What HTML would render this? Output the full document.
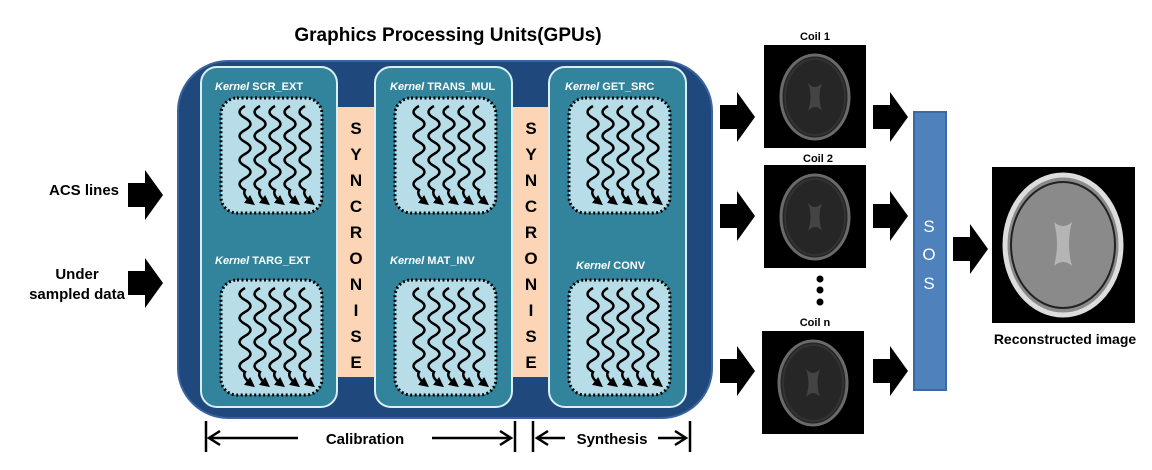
<!DOCTYPE html>
<html><head><meta charset="utf-8"><style>
html,body{margin:0;padding:0;background:#fff}
svg{display:block}
text{font-family:"Liberation Sans",sans-serif;font-weight:bold}
</style></head><body>
<svg width="1152" height="470" viewBox="0 0 1152 470" xmlns="http://www.w3.org/2000/svg">
<defs>
<marker id="ah" markerWidth="4" markerHeight="4" refX="2" refY="2" orient="auto" markerUnits="strokeWidth">
<path d="M0,0 L4,2 L0,4 z" fill="#000"/></marker>
<path id="arr" d="M0,13 H17 V0 L35,25 L17,50 V37 H0 Z" fill="#000"/>
<g id="wv">
<rect x="0" y="0" width="101" height="115" rx="16" fill="#b7dde8" stroke="#000" stroke-width="3" stroke-dasharray="2,2.5"/>
<g fill="none" stroke="#000" stroke-width="2.5">
<path id="w1" d="M24,8 q-11,6 0,12 q11,6 0,12 q-11,6 0,12 q11,6 0,12 q-11,6 0,12 q11,6 0,12 q-11,6 0,12 q-3,5 6,12" marker-end="url(#ah)"/>
<use href="#w1" x="15"/><use href="#w1" x="30"/><use href="#w1" x="45"/><use href="#w1" x="60"/>
</g>
</g>
<g id="brain">
<rect x="0" y="0" width="102" height="103" fill="#000"/>
<ellipse cx="51" cy="52" rx="34" ry="42" fill="#262626" stroke="#6a6a6a" stroke-width="3"/>
<ellipse cx="51" cy="52" rx="30" ry="38" fill="none" stroke="#333" stroke-width="2"/>
<path d="M44,38 q7,8 14,0 q-5,14 0,28 q-7,-8 -14,0 q5,-14 0,-28z" fill="#444"/>
</g>
</defs>

<text x="448" y="41" font-size="19" text-anchor="middle" fill="#000">Graphics Processing Units(GPUs)</text>

<rect x="178" y="61" width="534" height="357" rx="50" fill="#1f497d" stroke="#3a64a0" stroke-width="2"/>

<rect x="337" y="107" width="38" height="270" fill="#fbd5b5"/>
<rect x="512" y="107" width="37" height="270" fill="#fbd5b5"/>
<g font-size="17" text-anchor="middle" fill="#000">
<text x="356" y="134">S</text><text x="356" y="160">Y</text><text x="356" y="186">N</text><text x="356" y="212">C</text><text x="356" y="238">R</text><text x="356" y="264">O</text><text x="356" y="290">N</text><text x="356" y="316">I</text><text x="356" y="342">S</text><text x="356" y="368">E</text>
<text x="531" y="134">S</text><text x="531" y="160">Y</text><text x="531" y="186">N</text><text x="531" y="212">C</text><text x="531" y="238">R</text><text x="531" y="264">O</text><text x="531" y="290">N</text><text x="531" y="316">I</text><text x="531" y="342">S</text><text x="531" y="368">E</text>
</g>

<g fill="#31849b" stroke="#dbeef3" stroke-width="2">
<rect x="201" y="67" width="136" height="340" rx="16"/>
<rect x="375" y="67" width="137" height="340" rx="16"/>
<rect x="549" y="67" width="137" height="340" rx="16"/>
</g>

<g font-size="11" fill="#fff">
<text x="215" y="90"><tspan font-style="italic">Kernel</tspan> SCR_EXT</text>
<text x="390" y="90"><tspan font-style="italic">Kernel</tspan> TRANS_MUL</text>
<text x="565" y="90"><tspan font-style="italic">Kernel</tspan> GET_SRC</text>
<text x="215" y="264"><tspan font-style="italic">Kernel</tspan> TARG_EXT</text>
<text x="390" y="264"><tspan font-style="italic">Kernel</tspan> MAT_INV</text>
<text x="576" y="269"><tspan font-style="italic">Kernel</tspan> CONV</text>
</g>

<use href="#wv" x="221" y="98"/>
<use href="#wv" x="395" y="98"/>
<use href="#wv" x="569" y="98"/>
<use href="#wv" x="221" y="280"/>
<use href="#wv" x="395" y="280"/>
<use href="#wv" x="569" y="280"/>

<g stroke="#000" stroke-width="2.5" fill="none">
<line x1="206" y1="421" x2="206" y2="452"/>
<line x1="515" y1="421" x2="515" y2="452"/>
<line x1="533" y1="421" x2="533" y2="452"/>
<line x1="690" y1="421" x2="690" y2="452"/>
<line x1="210" y1="438" x2="298" y2="438"/>
<line x1="432" y1="438" x2="510" y2="438"/>
<line x1="538" y1="438" x2="565" y2="438"/>
<line x1="658" y1="438" x2="685" y2="438"/>
<path d="M220,431 L209,438 L220,445"/>
<path d="M500,431 L511,438 L500,445"/>
<path d="M548,431 L537,438 L548,445"/>
<path d="M675,431 L686,438 L675,445"/>
</g>
<g font-size="15" fill="#000" text-anchor="middle">
<text x="365" y="444">Calibration</text>
<text x="612" y="444">Synthesis</text>
</g>

<g font-size="15" fill="#000" text-anchor="middle">
<text x="84" y="195">ACS lines</text>
<text x="77" y="279">Under</text>
<text x="77" y="299">sampled data</text>
</g>
<use href="#arr" x="128" y="170"/>
<use href="#arr" x="128" y="258"/>

<g font-size="11" fill="#000" text-anchor="middle">
<text x="815" y="40">Coil 1</text>
<text x="818" y="162">Coil 2</text>
<text x="815" y="326">Coil n</text>
</g>
<use href="#brain" x="764" y="45"/>
<use href="#brain" x="764" y="165"/>
<use href="#brain" x="762" y="331"/>
<circle cx="820" cy="279" r="3.5" fill="#000"/>
<circle cx="820" cy="290" r="3.5" fill="#000"/>
<circle cx="820" cy="302" r="3.5" fill="#000"/>

<use href="#arr" x="720" y="92"/>
<use href="#arr" x="720" y="191"/>
<use href="#arr" x="720" y="346"/>
<use href="#arr" x="873" y="92"/>
<use href="#arr" x="873" y="191"/>
<use href="#arr" x="873" y="346"/>

<rect x="914" y="112" width="32" height="278" fill="#4f81bd" stroke="#3a6aa5" stroke-width="2"/>
<g font-size="17" fill="#fff" text-anchor="middle">
<text x="929" y="232" style="font-weight:normal">S</text>
<text x="929" y="260" style="font-weight:normal">O</text>
<text x="929" y="289" style="font-weight:normal">S</text>
</g>
<use href="#arr" x="953" y="224"/>

<rect x="992" y="167" width="143" height="156" fill="#000"/>
<ellipse cx="1063" cy="245" rx="58" ry="70" fill="#8a8a8a" stroke="#ddd" stroke-width="5"/>
<ellipse cx="1063" cy="245" rx="52" ry="63" fill="none" stroke="#222" stroke-width="2"/>
<path d="M1054,222 q9,8 18,0 q-6,22 0,44 q-9,-8 -18,0 q6,-22 0,-44z" fill="#b5b5b5"/>
<text x="1065" y="344" font-size="14" text-anchor="middle" fill="#000">Reconstructed image</text>
</svg>
</body></html>
